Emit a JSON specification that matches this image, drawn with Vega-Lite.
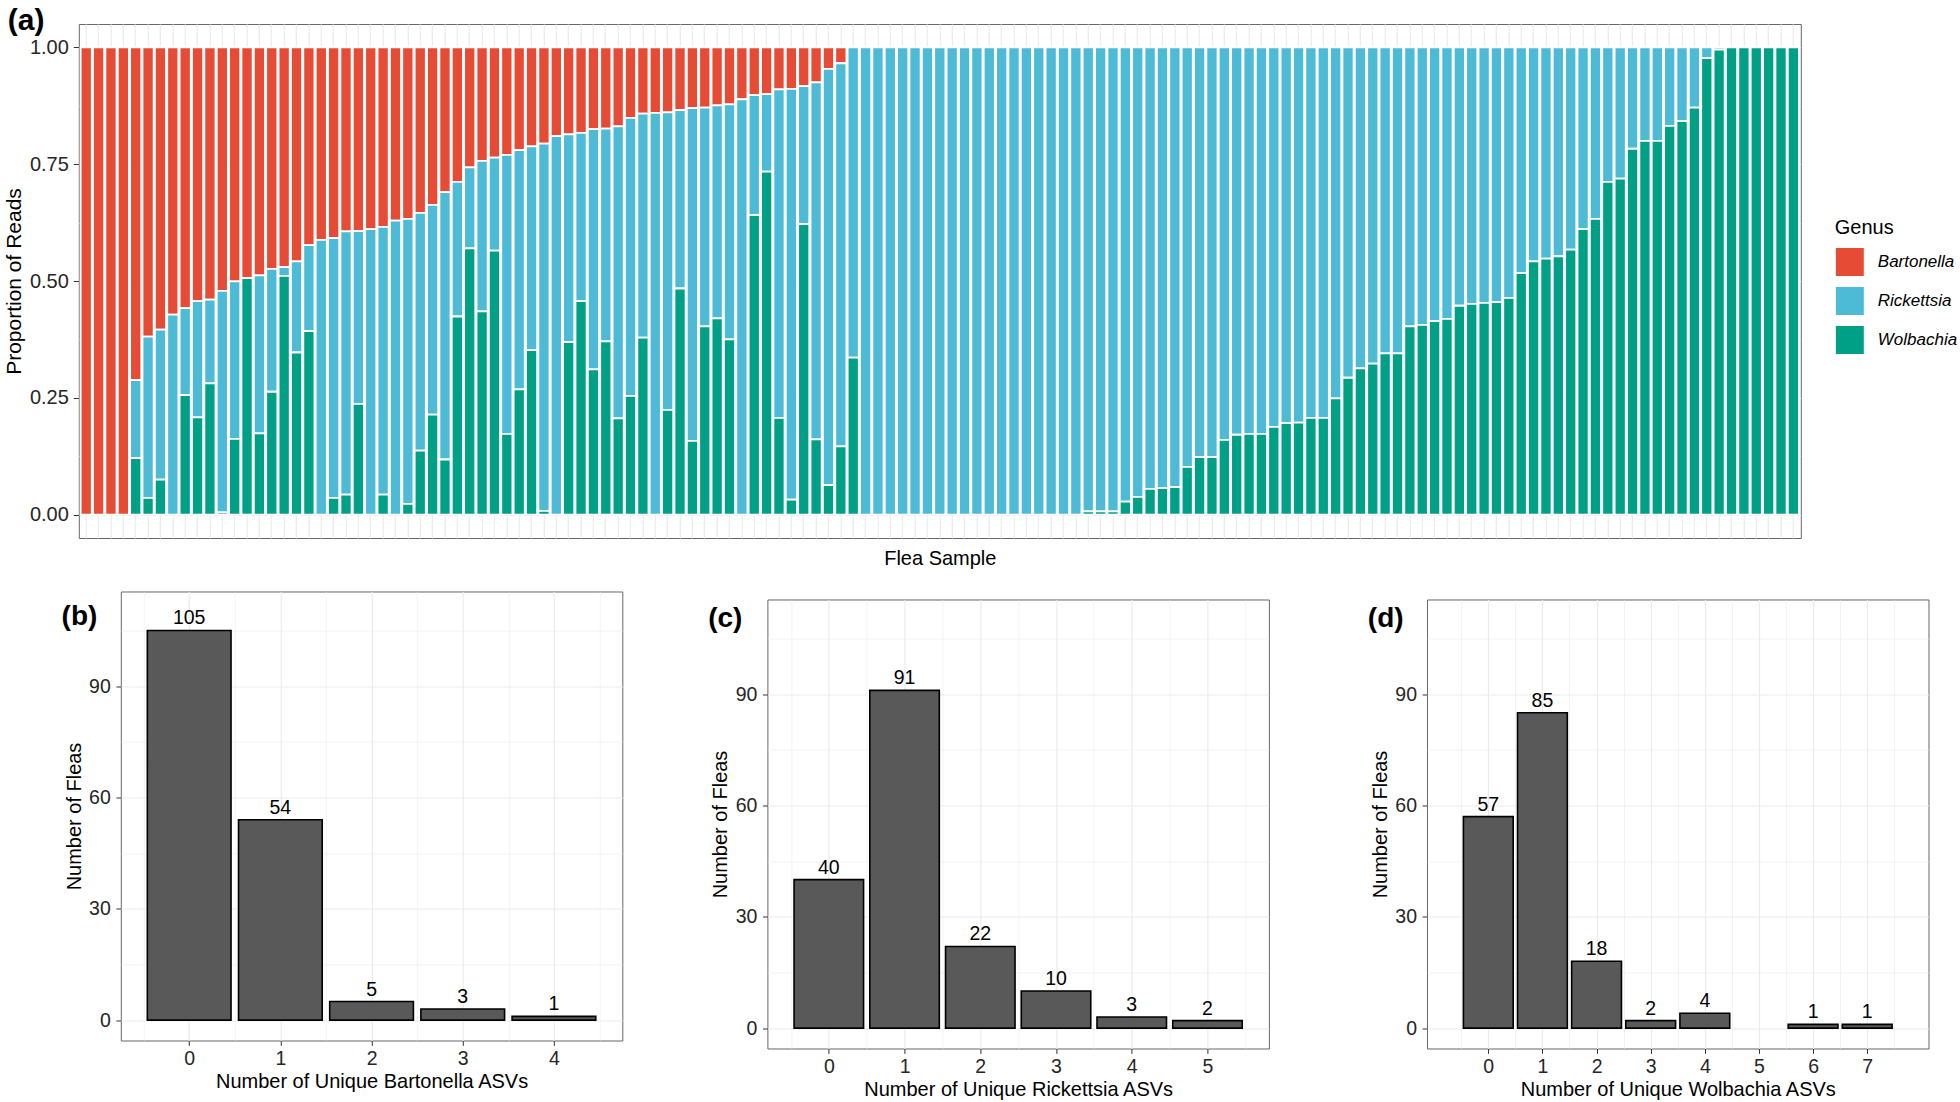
{
  "$schema": "https://vega.github.io/schema/vega-lite/v6.json",
  "background": "white",
  "padding": {"left": 0.8, "top": 5, "right": 0, "bottom": 0},
  "spacing": 21.5,
  "datasets": {
    "flea": [
      {"s":1,"Bartonella":1,"Rickettsia":0,"Wolbachia":0},
      {"s":2,"Bartonella":1,"Rickettsia":0,"Wolbachia":0},
      {"s":3,"Bartonella":1,"Rickettsia":0,"Wolbachia":0},
      {"s":4,"Bartonella":1,"Rickettsia":0,"Wolbachia":0},
      {"s":5,"Bartonella":0.712,"Rickettsia":0.167,"Wolbachia":0.121},
      {"s":6,"Bartonella":0.619,"Rickettsia":0.345,"Wolbachia":0.036},
      {"s":7,"Bartonella":0.604,"Rickettsia":0.321,"Wolbachia":0.075},
      {"s":8,"Bartonella":0.572,"Rickettsia":0.428,"Wolbachia":0},
      {"s":9,"Bartonella":0.558,"Rickettsia":0.186,"Wolbachia":0.256},
      {"s":10,"Bartonella":0.543,"Rickettsia":0.249,"Wolbachia":0.208},
      {"s":11,"Bartonella":0.540,"Rickettsia":0.179,"Wolbachia":0.281},
      {"s":12,"Bartonella":0.521,"Rickettsia":0.474,"Wolbachia":0.005},
      {"s":13,"Bartonella":0.501,"Rickettsia":0.337,"Wolbachia":0.162},
      {"s":14,"Bartonella":0.494,"Rickettsia":0,"Wolbachia":0.506},
      {"s":15,"Bartonella":0.488,"Rickettsia":0.338,"Wolbachia":0.174},
      {"s":16,"Bartonella":0.474,"Rickettsia":0.263,"Wolbachia":0.263},
      {"s":17,"Bartonella":0.470,"Rickettsia":0.019,"Wolbachia":0.511},
      {"s":18,"Bartonella":0.458,"Rickettsia":0.195,"Wolbachia":0.347},
      {"s":19,"Bartonella":0.423,"Rickettsia":0.184,"Wolbachia":0.393},
      {"s":20,"Bartonella":0.412,"Rickettsia":0.588,"Wolbachia":0},
      {"s":21,"Bartonella":0.408,"Rickettsia":0.556,"Wolbachia":0.036},
      {"s":22,"Bartonella":0.394,"Rickettsia":0.563,"Wolbachia":0.043},
      {"s":23,"Bartonella":0.393,"Rickettsia":0.370,"Wolbachia":0.237},
      {"s":24,"Bartonella":0.389,"Rickettsia":0.611,"Wolbachia":0},
      {"s":25,"Bartonella":0.384,"Rickettsia":0.573,"Wolbachia":0.043},
      {"s":26,"Bartonella":0.371,"Rickettsia":0.629,"Wolbachia":0},
      {"s":27,"Bartonella":0.367,"Rickettsia":0.610,"Wolbachia":0.023},
      {"s":28,"Bartonella":0.354,"Rickettsia":0.509,"Wolbachia":0.137},
      {"s":29,"Bartonella":0.337,"Rickettsia":0.449,"Wolbachia":0.214},
      {"s":30,"Bartonella":0.310,"Rickettsia":0.572,"Wolbachia":0.118},
      {"s":31,"Bartonella":0.288,"Rickettsia":0.288,"Wolbachia":0.424},
      {"s":32,"Bartonella":0.257,"Rickettsia":0.173,"Wolbachia":0.570},
      {"s":33,"Bartonella":0.243,"Rickettsia":0.322,"Wolbachia":0.435},
      {"s":34,"Bartonella":0.236,"Rickettsia":0.199,"Wolbachia":0.565},
      {"s":35,"Bartonella":0.230,"Rickettsia":0.597,"Wolbachia":0.173},
      {"s":36,"Bartonella":0.220,"Rickettsia":0.512,"Wolbachia":0.268},
      {"s":37,"Bartonella":0.212,"Rickettsia":0.436,"Wolbachia":0.352},
      {"s":38,"Bartonella":0.206,"Rickettsia":0.786,"Wolbachia":0.008},
      {"s":39,"Bartonella":0.190,"Rickettsia":0.810,"Wolbachia":0},
      {"s":40,"Bartonella":0.186,"Rickettsia":0.445,"Wolbachia":0.369},
      {"s":41,"Bartonella":0.183,"Rickettsia":0.360,"Wolbachia":0.457},
      {"s":42,"Bartonella":0.175,"Rickettsia":0.514,"Wolbachia":0.311},
      {"s":43,"Bartonella":0.174,"Rickettsia":0.455,"Wolbachia":0.371},
      {"s":44,"Bartonella":0.169,"Rickettsia":0.625,"Wolbachia":0.206},
      {"s":45,"Bartonella":0.151,"Rickettsia":0.595,"Wolbachia":0.254},
      {"s":46,"Bartonella":0.142,"Rickettsia":0.479,"Wolbachia":0.379},
      {"s":47,"Bartonella":0.140,"Rickettsia":0.860,"Wolbachia":0},
      {"s":48,"Bartonella":0.139,"Rickettsia":0.637,"Wolbachia":0.224},
      {"s":49,"Bartonella":0.134,"Rickettsia":0.382,"Wolbachia":0.484},
      {"s":50,"Bartonella":0.130,"Rickettsia":0.712,"Wolbachia":0.158},
      {"s":51,"Bartonella":0.129,"Rickettsia":0.468,"Wolbachia":0.403},
      {"s":52,"Bartonella":0.124,"Rickettsia":0.456,"Wolbachia":0.420},
      {"s":53,"Bartonella":0.122,"Rickettsia":0.503,"Wolbachia":0.375},
      {"s":54,"Bartonella":0.111,"Rickettsia":0.889,"Wolbachia":0},
      {"s":55,"Bartonella":0.102,"Rickettsia":0.257,"Wolbachia":0.641},
      {"s":56,"Bartonella":0.100,"Rickettsia":0.166,"Wolbachia":0.734},
      {"s":57,"Bartonella":0.090,"Rickettsia":0.703,"Wolbachia":0.207},
      {"s":58,"Bartonella":0.089,"Rickettsia":0.879,"Wolbachia":0.032},
      {"s":59,"Bartonella":0.083,"Rickettsia":0.295,"Wolbachia":0.622},
      {"s":60,"Bartonella":0.075,"Rickettsia":0.764,"Wolbachia":0.161},
      {"s":61,"Bartonella":0.046,"Rickettsia":0.891,"Wolbachia":0.063},
      {"s":62,"Bartonella":0.034,"Rickettsia":0.820,"Wolbachia":0.146},
      {"s":63,"Bartonella":0,"Rickettsia":0.664,"Wolbachia":0.336},
      {"s":64,"Bartonella":0,"Rickettsia":1,"Wolbachia":0},
      {"s":65,"Bartonella":0,"Rickettsia":1,"Wolbachia":0},
      {"s":66,"Bartonella":0,"Rickettsia":1,"Wolbachia":0},
      {"s":67,"Bartonella":0,"Rickettsia":1,"Wolbachia":0},
      {"s":68,"Bartonella":0,"Rickettsia":1,"Wolbachia":0},
      {"s":69,"Bartonella":0,"Rickettsia":1,"Wolbachia":0},
      {"s":70,"Bartonella":0,"Rickettsia":1,"Wolbachia":0},
      {"s":71,"Bartonella":0,"Rickettsia":1,"Wolbachia":0},
      {"s":72,"Bartonella":0,"Rickettsia":1,"Wolbachia":0},
      {"s":73,"Bartonella":0,"Rickettsia":1,"Wolbachia":0},
      {"s":74,"Bartonella":0,"Rickettsia":1,"Wolbachia":0},
      {"s":75,"Bartonella":0,"Rickettsia":1,"Wolbachia":0},
      {"s":76,"Bartonella":0,"Rickettsia":1,"Wolbachia":0},
      {"s":77,"Bartonella":0,"Rickettsia":1,"Wolbachia":0},
      {"s":78,"Bartonella":0,"Rickettsia":1,"Wolbachia":0},
      {"s":79,"Bartonella":0,"Rickettsia":1,"Wolbachia":0},
      {"s":80,"Bartonella":0,"Rickettsia":1,"Wolbachia":0},
      {"s":81,"Bartonella":0,"Rickettsia":1,"Wolbachia":0},
      {"s":82,"Bartonella":0,"Rickettsia":0.993,"Wolbachia":0.007},
      {"s":83,"Bartonella":0,"Rickettsia":0.993,"Wolbachia":0.007},
      {"s":84,"Bartonella":0,"Rickettsia":0.993,"Wolbachia":0.007},
      {"s":85,"Bartonella":0,"Rickettsia":0.972,"Wolbachia":0.028},
      {"s":86,"Bartonella":0,"Rickettsia":0.962,"Wolbachia":0.038},
      {"s":87,"Bartonella":0,"Rickettsia":0.945,"Wolbachia":0.055},
      {"s":88,"Bartonella":0,"Rickettsia":0.943,"Wolbachia":0.057},
      {"s":89,"Bartonella":0,"Rickettsia":0.941,"Wolbachia":0.059},
      {"s":90,"Bartonella":0,"Rickettsia":0.898,"Wolbachia":0.102},
      {"s":91,"Bartonella":0,"Rickettsia":0.877,"Wolbachia":0.123},
      {"s":92,"Bartonella":0,"Rickettsia":0.877,"Wolbachia":0.123},
      {"s":93,"Bartonella":0,"Rickettsia":0.840,"Wolbachia":0.160},
      {"s":94,"Bartonella":0,"Rickettsia":0.829,"Wolbachia":0.171},
      {"s":95,"Bartonella":0,"Rickettsia":0.827,"Wolbachia":0.173},
      {"s":96,"Bartonella":0,"Rickettsia":0.827,"Wolbachia":0.173},
      {"s":97,"Bartonella":0,"Rickettsia":0.812,"Wolbachia":0.188},
      {"s":98,"Bartonella":0,"Rickettsia":0.804,"Wolbachia":0.196},
      {"s":99,"Bartonella":0,"Rickettsia":0.803,"Wolbachia":0.197},
      {"s":100,"Bartonella":0,"Rickettsia":0.793,"Wolbachia":0.207},
      {"s":101,"Bartonella":0,"Rickettsia":0.793,"Wolbachia":0.207},
      {"s":102,"Bartonella":0,"Rickettsia":0.751,"Wolbachia":0.249},
      {"s":103,"Bartonella":0,"Rickettsia":0.707,"Wolbachia":0.293},
      {"s":104,"Bartonella":0,"Rickettsia":0.687,"Wolbachia":0.313},
      {"s":105,"Bartonella":0,"Rickettsia":0.677,"Wolbachia":0.323},
      {"s":106,"Bartonella":0,"Rickettsia":0.655,"Wolbachia":0.345},
      {"s":107,"Bartonella":0,"Rickettsia":0.655,"Wolbachia":0.345},
      {"s":108,"Bartonella":0,"Rickettsia":0.597,"Wolbachia":0.403},
      {"s":109,"Bartonella":0,"Rickettsia":0.594,"Wolbachia":0.406},
      {"s":110,"Bartonella":0,"Rickettsia":0.586,"Wolbachia":0.414},
      {"s":111,"Bartonella":0,"Rickettsia":0.581,"Wolbachia":0.419},
      {"s":112,"Bartonella":0,"Rickettsia":0.553,"Wolbachia":0.447},
      {"s":113,"Bartonella":0,"Rickettsia":0.549,"Wolbachia":0.451},
      {"s":114,"Bartonella":0,"Rickettsia":0.547,"Wolbachia":0.453},
      {"s":115,"Bartonella":0,"Rickettsia":0.545,"Wolbachia":0.455},
      {"s":116,"Bartonella":0,"Rickettsia":0.536,"Wolbachia":0.464},
      {"s":117,"Bartonella":0,"Rickettsia":0.483,"Wolbachia":0.517},
      {"s":118,"Bartonella":0,"Rickettsia":0.458,"Wolbachia":0.542},
      {"s":119,"Bartonella":0,"Rickettsia":0.452,"Wolbachia":0.548},
      {"s":120,"Bartonella":0,"Rickettsia":0.447,"Wolbachia":0.553},
      {"s":121,"Bartonella":0,"Rickettsia":0.433,"Wolbachia":0.567},
      {"s":122,"Bartonella":0,"Rickettsia":0.389,"Wolbachia":0.611},
      {"s":123,"Bartonella":0,"Rickettsia":0.367,"Wolbachia":0.633},
      {"s":124,"Bartonella":0,"Rickettsia":0.288,"Wolbachia":0.712},
      {"s":125,"Bartonella":0,"Rickettsia":0.281,"Wolbachia":0.719},
      {"s":126,"Bartonella":0,"Rickettsia":0.217,"Wolbachia":0.783},
      {"s":127,"Bartonella":0,"Rickettsia":0.200,"Wolbachia":0.800},
      {"s":128,"Bartonella":0,"Rickettsia":0.200,"Wolbachia":0.800},
      {"s":129,"Bartonella":0,"Rickettsia":0.168,"Wolbachia":0.832},
      {"s":130,"Bartonella":0,"Rickettsia":0.158,"Wolbachia":0.842},
      {"s":131,"Bartonella":0,"Rickettsia":0.129,"Wolbachia":0.871},
      {"s":132,"Bartonella":0,"Rickettsia":0.023,"Wolbachia":0.977},
      {"s":133,"Bartonella":0,"Rickettsia":0.005,"Wolbachia":0.995},
      {"s":134,"Bartonella":0,"Rickettsia":0,"Wolbachia":1},
      {"s":135,"Bartonella":0,"Rickettsia":0,"Wolbachia":1},
      {"s":136,"Bartonella":0,"Rickettsia":0,"Wolbachia":1},
      {"s":137,"Bartonella":0,"Rickettsia":0,"Wolbachia":1},
      {"s":138,"Bartonella":0,"Rickettsia":0,"Wolbachia":1},
      {"s":139,"Bartonella":0,"Rickettsia":0,"Wolbachia":1}
    ],
    "bart": [{"asv":0,"n":105},{"asv":1,"n":54},{"asv":2,"n":5},{"asv":3,"n":3},{"asv":4,"n":1}],
    "rick": [{"asv":0,"n":40},{"asv":1,"n":91},{"asv":2,"n":22},{"asv":3,"n":10},{"asv":4,"n":3},{"asv":5,"n":2}],
    "wolb": [{"asv":0,"n":57},{"asv":1,"n":85},{"asv":2,"n":18},{"asv":3,"n":2},{"asv":4,"n":4},{"asv":6,"n":1},{"asv":7,"n":1}]
  },
  "vconcat": [
    {
      "spacing": 0,
      "hconcat": [
        {
          "width": 2, "height": 10,
          "view": {"stroke": null},
          "data": {"values": [{}]},
          "mark": {"type": "point", "opacity": 0, "size": 0},
          "encoding": {}
        },
        {
          "width": 1722,
          "height": 514,
          "title": {"text": "(a)", "anchor": "start", "frame": "bounds", "fontSize": 30, "fontWeight": "bold", "baseline": "alphabetic", "offset": -36, "dx": 4.5, "color": "black"},
          "data": {"name": "flea"},
          "transform": [
            {"fold": ["Bartonella", "Rickettsia", "Wolbachia"], "as": ["Genus", "Proportion"]},
            {"filter": "datum.Proportion > 0"}
          ],
          "mark": {"type": "bar", "stroke": "white", "strokeWidth": 1.8},
          "encoding": {
            "x": {
              "field": "s", "type": "ordinal",
              "scale": {"paddingInner": 0.1, "paddingOuter": 0.15},
              "axis": {"title": "Flea Sample", "labels": false, "ticks": false, "domain": false, "grid": true, "bandPosition": 0.5, "gridColor": "#EBEBEB", "gridWidth": 1.2, "titlePadding": 10, "titleFontSize": 20}
            },
            "y": {
              "field": "Proportion", "type": "quantitative", "stack": "zero",
              "scale": {"domain": [-0.05, 1.05], "nice": false},
              "axis": {
                "title": "Proportion of Reads",
                "values": [0, 0.125, 0.25, 0.375, 0.5, 0.625, 0.75, 0.875, 1],
                "labelExpr": "(datum.value * 4) % 1 == 0 ? format(datum.value, '.2f') : ''",
                "tickOpacity": {"condition": {"test": "(datum.value * 4) % 1 != 0", "value": 0}, "value": 1},
                "gridWidth": {"condition": {"test": "(datum.value * 4) % 1 != 0", "value": 0.6}, "value": 1.2},
                "tickSize": 5.5, "labelPadding": 5, "labelFontSize": 20, "titleFontSize": 21, "titlePadding": 5
              }
            },
            "color": {
              "field": "Genus", "type": "nominal",
              "scale": {"domain": ["Bartonella", "Rickettsia", "Wolbachia"], "range": ["#E64B35", "#4DBBD5", "#00A087"]},
              "legend": {
                "title": "Genus", "orient": "none", "legendX": 1834, "legendY": 194, "padding": 0,
                "symbolType": "square", "symbolSize": 841, "symbolStrokeColor": "white", "symbolStrokeWidth": 1, "symbolOpacity": 1,
                "labelFontStyle": "italic", "labelFontSize": 17, "labelColor": "black", "labelOffset": 13,
                "titleFontSize": 20, "titleFontWeight": "normal", "titleColor": "black", "titlePadding": 9, "rowPadding": 5
              }
            },
            "order": {"field": "Genus", "sort": "descending"}
          }
        }
      ]
    },
    {
      "spacing": 0,
      "hconcat": [
        {
          "width": 59.4, "height": 10,
          "view": {"stroke": null},
          "data": {"values": [{}]},
          "mark": {"type": "point", "opacity": 0, "size": 0},
          "encoding": {}
        },
        {
          "spacing": 84.6,
          "hconcat": [
            {
              "width": 501.5, "height": 449,
              "title": {"text": "(b)", "anchor": "start", "frame": "bounds", "fontSize": 28, "fontWeight": "bold", "baseline": "alphabetic", "offset": -62, "dx": -2.5, "color": "black"},
              "data": {"name": "bart"},
              "encoding": {
                "x": {
                  "field": "asv", "type": "quantitative",
                  "scale": {"domain": [-0.695, 4.695], "nice": false},
                  "axis": {
                    "title": "Number of Unique Bartonella ASVs",
                    "values": [-0.5, 0, 0.5, 1, 1.5, 2, 2.5, 3, 3.5, 4, 4.5],
                    "labelExpr": "datum.value % 1 == 0 ? format(datum.value, 'd') : ''",
                    "tickOpacity": {"condition": {"test": "datum.value % 1 != 0", "value": 0}, "value": 1},
                    "gridWidth": {"condition": {"test": "datum.value % 1 != 0", "value": 0.6}, "value": 1.2},
                    "tickSize": 4.9, "labelPadding": 4.6, "labelFontSize": 19.5, "titleFontSize": 20, "titlePadding": 3
                  }
                },
                "y": {
                  "field": "n", "type": "quantitative",
                  "scale": {"domain": [-5.5, 115.5], "nice": false},
                  "axis": {
                    "title": "Number of Fleas",
                    "values": [0, 15, 30, 45, 60, 75, 90, 105],
                    "labelExpr": "datum.value % 30 == 0 ? format(datum.value, 'd') : ''",
                    "tickOpacity": {"condition": {"test": "datum.value % 30 != 0", "value": 0}, "value": 1},
                    "gridWidth": {"condition": {"test": "datum.value % 30 != 0", "value": 0.6}, "value": 1.2},
                    "tickSize": 4.9, "labelPadding": 5.6, "labelFontSize": 19.5, "titleFontSize": 20, "titlePadding": 4.5
                  }
                }
              },
              "layer": [
                {"mark": {"type": "bar", "width": 83.7, "fill": "#595959", "stroke": "black", "strokeWidth": 1.6}},
                {"mark": {"type": "text", "baseline": "alphabetic", "dy": -6, "fontSize": 19.5, "color": "black"}, "encoding": {"text": {"field": "n", "type": "quantitative"}}}
              ]
            },
            {
              "spacing": 0,
              "vconcat": [
                {
                  "width": 1, "height": 6.8,
                  "view": {"stroke": null},
                  "data": {"values": [{}]},
                  "mark": {"type": "point", "opacity": 0, "size": 0},
                  "encoding": {}
                },
                {
                  "spacing": 97.6,
                  "hconcat": [
                    {
                      "width": 501.5, "height": 449,
                      "title": {"text": "(c)", "anchor": "start", "frame": "bounds", "fontSize": 28, "fontWeight": "bold", "baseline": "alphabetic", "offset": -55.2, "dx": -2.5, "color": "black"},
                      "data": {"name": "rick"},
                      "encoding": {
                        "x": {
                          "field": "asv", "type": "quantitative",
                          "scale": {"domain": [-0.745, 5.745], "nice": false},
                          "axis": {
                            "title": "Number of Unique Rickettsia ASVs",
                            "values": [-0.5, 0, 0.5, 1, 1.5, 2, 2.5, 3, 3.5, 4, 4.5, 5, 5.5],
                            "labelExpr": "datum.value % 1 == 0 ? format(datum.value, 'd') : ''",
                            "tickOpacity": {"condition": {"test": "datum.value % 1 != 0", "value": 0}, "value": 1},
                            "gridWidth": {"condition": {"test": "datum.value % 1 != 0", "value": 0.6}, "value": 1.2},
                            "tickSize": 4.9, "labelPadding": 4.6, "labelFontSize": 19.5, "titleFontSize": 20, "titlePadding": 3
                          }
                        },
                        "y": {
                          "field": "n", "type": "quantitative",
                          "scale": {"domain": [-5.5, 115.5], "nice": false},
                          "axis": {
                            "title": "Number of Fleas",
                            "values": [0, 15, 30, 45, 60, 75, 90, 105],
                            "labelExpr": "datum.value % 30 == 0 ? format(datum.value, 'd') : ''",
                            "tickOpacity": {"condition": {"test": "datum.value % 30 != 0", "value": 0}, "value": 1},
                            "gridWidth": {"condition": {"test": "datum.value % 30 != 0", "value": 0.6}, "value": 1.2},
                            "tickSize": 4.9, "labelPadding": 5.6, "labelFontSize": 19.5, "titleFontSize": 20, "titlePadding": 4.5
                          }
                        }
                      },
                      "layer": [
                        {"mark": {"type": "bar", "width": 69.5, "fill": "#595959", "stroke": "black", "strokeWidth": 1.6}},
                        {"mark": {"type": "text", "baseline": "alphabetic", "dy": -6, "fontSize": 19.5, "color": "black"}, "encoding": {"text": {"field": "n", "type": "quantitative"}}}
                      ]
                    },
                    {
                      "width": 501.5, "height": 449,
                      "title": {"text": "(d)", "anchor": "start", "frame": "bounds", "fontSize": 28, "fontWeight": "bold", "baseline": "alphabetic", "offset": -55.2, "dx": -2.5, "color": "black"},
                      "data": {"name": "wolb"},
                      "encoding": {
                        "x": {
                          "field": "asv", "type": "quantitative",
                          "scale": {"domain": [-1.04, 8.04], "nice": false},
                          "axis": {
                            "title": "Number of Unique Wolbachia ASVs",
                            "values": [-0.5, 0, 0.5, 1, 1.5, 2, 2.5, 3, 3.5, 4, 4.5, 5, 5.5, 6, 6.5, 7, 7.5],
                            "labelExpr": "datum.value % 1 == 0 ? format(datum.value, 'd') : ''",
                            "tickOpacity": {"condition": {"test": "datum.value % 1 != 0", "value": 0}, "value": 1},
                            "gridWidth": {"condition": {"test": "datum.value % 1 != 0", "value": 0.6}, "value": 1.2},
                            "tickSize": 4.9, "labelPadding": 4.6, "labelFontSize": 19.5, "titleFontSize": 20, "titlePadding": 3
                          }
                        },
                        "y": {
                          "field": "n", "type": "quantitative",
                          "scale": {"domain": [-5.5, 115.5], "nice": false},
                          "axis": {
                            "title": "Number of Fleas",
                            "values": [0, 15, 30, 45, 60, 75, 90, 105],
                            "labelExpr": "datum.value % 30 == 0 ? format(datum.value, 'd') : ''",
                            "tickOpacity": {"condition": {"test": "datum.value % 30 != 0", "value": 0}, "value": 1},
                            "gridWidth": {"condition": {"test": "datum.value % 30 != 0", "value": 0.6}, "value": 1.2},
                            "tickSize": 4.9, "labelPadding": 5.6, "labelFontSize": 19.5, "titleFontSize": 20, "titlePadding": 4.5
                          }
                        }
                      },
                      "layer": [
                        {"mark": {"type": "bar", "width": 49.8, "fill": "#595959", "stroke": "black", "strokeWidth": 1.6}},
                        {"mark": {"type": "text", "baseline": "alphabetic", "dy": -6, "fontSize": 19.5, "color": "black"}, "encoding": {"text": {"field": "n", "type": "quantitative"}}}
                      ]
                    }
                  ]
                }
              ]
            }
          ]
        }
      ]
    }
  ],
  "config": {
    "font": "Liberation Sans",
    "view": {"stroke": "#666666", "strokeWidth": 1},
    "axis": {"domain": false, "gridColor": "#EBEBEB", "tickColor": "#333333", "labelColor": "#262626", "titleColor": "black", "titleFontWeight": "normal", "labelFont": "Liberation Sans", "titleFont": "Liberation Sans"},
    "title": {"font": "Liberation Sans", "color": "black"},
    "legend": {"labelFont": "Liberation Sans", "titleFont": "Liberation Sans"}
  }
}
